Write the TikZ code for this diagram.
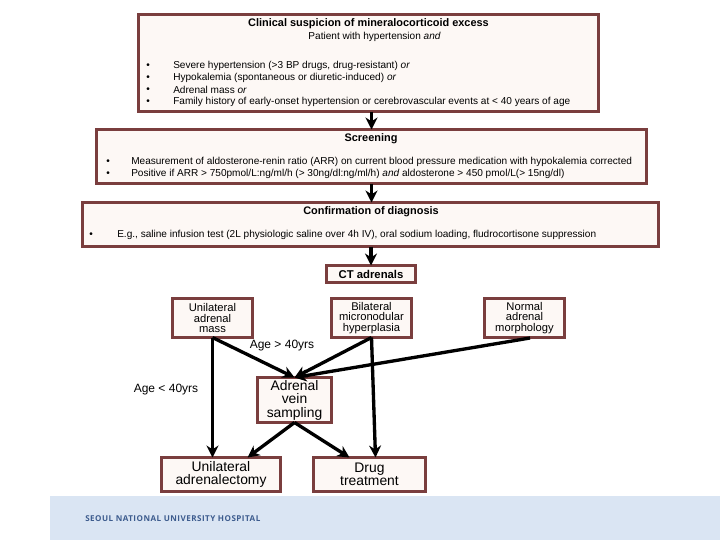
\documentclass[tikz,border=0pt]{standalone}
\usepackage{fontspec}
\setmainfont{Liberation Sans}
\newfontfamily\logofont[LetterSpace=6]{Open Sans}
\usetikzlibrary{arrows.meta}
\definecolor{boxline}{HTML}{7A3E3E}
\definecolor{boxfill}{HTML}{FDF8F5}
\definecolor{band}{HTML}{DAE5F3}
\definecolor{logoblue}{HTML}{3D5C8E}
\tikzset{
  x=0.75pt,y=-0.75pt,
  frame/.style={draw=boxline,fill=boxfill,line width=2.25pt,inner sep=0pt,outer sep=0pt,align=center},
  small/.style={font=\fontsize{7.55}{8}\selectfont,inner sep=0pt,anchor=west},
  head/.style={font=\fontsize{7.55}{8}\selectfont,inner sep=0pt,anchor=center,align=center},
  boldhead/.style={font=\fontsize{8.2}{9}\selectfont\bfseries,inner sep=0pt,anchor=center,align=center},
  agelabel/.style={font=\fontsize{9}{10}\selectfont,inner sep=0pt},
  subtxt/.style={font=\fontsize{8.4}{7.9}\selectfont},
  bigtxt/.style={font=\fontsize{10.4}{10.1}\selectfont},
  cttxt/.style={font=\fontsize{8.5}{9}\selectfont\bfseries},
  flow/.style={draw=black,line width=2.5pt,-{Stealth[length=9pt,width=9pt]}}
}
\newcommand{\fr}[6][]{\node[frame,#1,minimum width=#4*0.75pt-2.25pt,minimum height=#5*0.75pt-2.25pt] (#2) at (#3) {#6};}
\begin{document}
\begin{tikzpicture}
\useasboundingbox (0,0) rectangle (720,540);
\fill[band] (50,496) rectangle (720,540);
\node[font=\logofont\bfseries\fontsize{6.05}{7}\selectfont,text=logoblue,inner sep=0pt,anchor=west] (logo) at (85,518.5) {SEOUL NATIONAL UNIVERSITY HOSPITAL};

\fr{suspicion}{368.5,63}{463}{100}{}
\fr{screen}{371.5,156.5}{553}{57}{}
\fr{confirm}{370.5,224.5}{579}{47}{}
\fr[cttxt]{ct}{371,274}{92}{20}{CT adrenals}
\fr[subtxt]{uni}{212.5,318}{83}{42}{Unilateral\\adrenal\\mass}
\fr[subtxt]{bil}{371.5,318}{83}{42}{Bilateral\\micronodular\\hyperplasia}
\fr[subtxt]{nor}{524.5,318}{83}{42}{Normal\\adrenal\\morphology}
\fr[bigtxt]{avs}{294.5,400}{77}{48}{Adrenal\\vein\\sampling}
\fr[bigtxt]{ua}{221,474.5}{122}{37}{Unilateral\\adrenalectomy}
\fr[bigtxt]{drug}{369.5,474.5}{115}{37}{Drug\\treatment}

\node[boldhead] (t1) at (368.5,23.5) {Clinical suspicion of mineralocorticoid excess};
\node[head] (t2) at (374.5,36.5) {Patient with hypertension \itshape and};
\foreach \n/\y in {a/65,b/77,c/89,d/101} \node[small] (bl\n) at (146,\y+1) {•};
\node[small] (l1) at (173,65.5) {Severe hypertension (>3 BP drugs, drug-resistant) \itshape or};
\node[small] (l2) at (173,77.5) {Hypokalemia (spontaneous or diuretic-induced) \itshape or};
\node[small] (l3) at (173,89.5) {Adrenal mass \itshape or};
\node[small] (l4) at (173,101.5) {Family history of early-onset hypertension or cerebrovascular events at < 40 years of age};

\node[boldhead] (s0) at (371,139) {Screening};
\foreach \n/\y in {a/161,b/173} \node[small] (sb\n) at (106,\y+1) {•};
\node[small] (s1) at (131,162) {Measurement of aldosterone-renin ratio (ARR) on current blood pressure medication with hypokalemia corrected};
\node[small] (s2) at (131,174) {Positive if ARR > 750pmol/L:ng/ml/h (> 30ng/dl:ng/ml/h) \itshape and\upshape{} aldosterone > 450 pmol/L(> 15ng/dl)};

\node[boldhead] (c0) at (371,211.5) {Confirmation of diagnosis};
\node[small] (cb) at (89,235) {•};
\node[small] (c1) at (117,234.5) {E.g., saline infusion test (2L physiologic saline over 4h IV), oral sodium loading, fludrocortisone suppression};

\node[agelabel] (old) at (282,345.5) {Age > 40yrs};
\node[agelabel] (young) at (166,389.5) {Age < 40yrs};

\coordinate (norfoot) at (530,338);
\draw[flow] (suspicion.south -| screen.north) -- (screen.north);
\draw[flow] (screen.south) -- (screen.south |- confirm.north);
\draw[flow] (confirm.south -| ct.north) -- (ct.north);
\draw[flow] (uni.south) -- (uni.south |- ua.north);
\draw[flow] (uni.south) -- (avs.north);
\draw[flow] (bil.south) -- (avs.north);
\draw[flow] (norfoot) -- (avs.north);
\draw[flow] (bil.south) -- ([xshift=3pt]bil.south |- drug.north);
\draw[flow] (avs.south) -- ([xshift=-35.25pt]avs.south |- ua.north);
\draw[flow] (avs.south) -- ([xshift=41.25pt]avs.south |- drug.north);
\end{tikzpicture}
\end{document}
